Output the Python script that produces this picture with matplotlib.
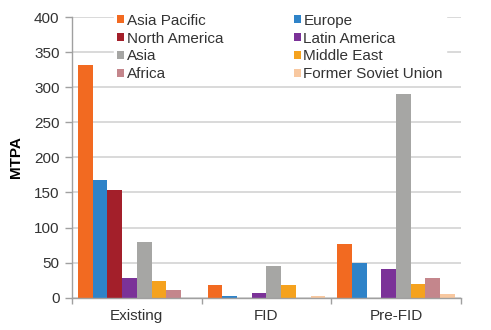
import matplotlib

matplotlib.use("Agg")
import matplotlib.pyplot as plt
from matplotlib.patches import Patch
import numpy as np

CATEGORIES = ["Existing", "FID", "Pre-FID"]
REGIONS = [
    "Asia Pacific", "Europe", "North America", "Latin America",
    "Asia", "Middle East", "Africa", "Former Soviet Union",
]
COLORS = [
    "#F26A21", "#2F83C8", "#A31F2A", "#7B3298",
    "#A6A6A4", "#F5A21E", "#C4868C", "#F8C8A0",
]
VALUES = {
    "Asia Pacific": [332, 18, 77],
    "Europe": [168, 2, 49],
    "North America": [154, 0, 0],
    "Latin America": [28, 6, 41],
    "Asia": [79, 45, 291],
    "Middle East": [24, 18, 19],
    "Africa": [11, 0, 28],
    "Former Soviet Union": [0, 2, 5],
}
LEGEND_ORDER = [0, 2, 4, 6, 1, 3, 5, 7]

plt.rc("font", family="Liberation Sans")
fs = 11
fig = plt.figure(figsize=(4.91, 3.30), dpi=100)
ax = fig.add_axes([0.1466, 0.098, 0.792, 0.850])

x = np.arange(len(CATEGORIES))
n = len(REGIONS)
width = 0.1135
for i, (name, color) in enumerate(zip(REGIONS, COLORS)):
    offset = (i - (n - 1) / 2) * width
    ax.bar(x + offset, VALUES[name], width, color=color, zorder=2, linewidth=0)

ax.set_xlim(-0.5, 2.5)
ax.set_ylim(0, 400)
ax.set_yticks(np.arange(0, 401, 50))
ax.set_xticks(x)
ax.set_xticklabels(CATEGORIES, fontsize=fs, color="#333333")
ax.set_xticks([-0.5, 0.5, 1.5, 2.5], minor=True)
ax.tick_params(axis="x", which="major", length=0, pad=8)
ax.tick_params(axis="x", which="minor", length=4, color="#A0A0A0", width=1.0)
ax.tick_params(axis="y", labelsize=fs, labelcolor="#333333", length=5,
               color="#A0A0A0", width=1.0, pad=4)
ax.set_ylabel("MTPA", fontweight="bold", fontsize=fs, labelpad=8)
ax.grid(True, axis="y", color="#D9D9D9", linewidth=1.4, zorder=0)
ax.set_axisbelow(True)
for side in ("top", "right"):
    ax.spines[side].set_visible(False)
for side in ("left", "bottom"):
    ax.spines[side].set_color("#A0A0A0")
    ax.spines[side].set_linewidth(1.0)

handles = [Patch(facecolor=COLORS[i], label=REGIONS[i]) for i in LEGEND_ORDER]
leg = ax.legend(
    handles=handles, ncol=2, loc="upper left", bbox_to_anchor=(0.089, 1.05),
    frameon=True, fontsize=fs, handlelength=0.45, handleheight=0.45,
    handletextpad=0.18, labelspacing=0.25, columnspacing=4.6,
    borderpad=0.2, fancybox=False,
)
leg.get_frame().set_edgecolor("white")
leg.get_frame().set_facecolor("white")
leg.get_frame().set_alpha(1.0)
leg.set_zorder(5)
for t in leg.get_texts():
    t.set_color("#333333")

fig.savefig("out.png", dpi=100)
